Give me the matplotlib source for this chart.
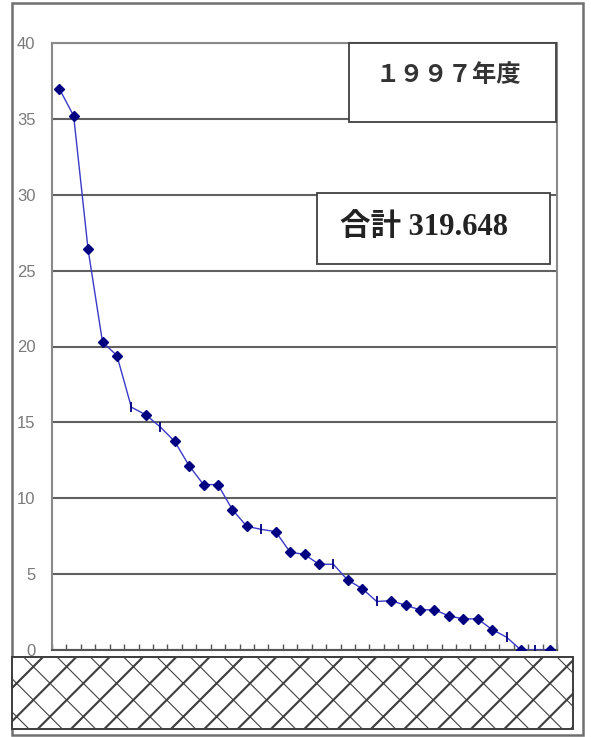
import matplotlib.pyplot as plt
from matplotlib.patches import Rectangle
import numpy as np

# 1997 ranking, largest first
ranks = list(range(1, 36))
values = [37.0, 35.2, 26.4, 20.3, 19.4, 16.0, 15.5, 14.7, 13.75, 12.15,
          10.9, 10.9, 9.25, 8.15, 7.95, 7.8, 6.45, 6.3, 5.65, 5.65,
          4.6, 4.05, 3.2, 3.25, 2.95, 2.65, 2.65, 2.25, 2.05, 2.05,
          1.35, 0.85, 0.0, 0.0, 0.0]
# entries drawn with a plain tick instead of the diamond
plain = [6, 8, 15, 20, 23, 32, 34]
year_label = "１９９７年度"
total_label = "合計 319.648"
yticks = [0, 5, 10, 15, 20, 25, 30, 35, 40]

W, H = 591, 737
fig = plt.figure(figsize=(W / 100, H / 100), dpi=100)
fig.patch.set_facecolor("white")

def fx(px):
    return px / W

def fy(py):
    return 1 - py / H

ax = fig.add_axes([fx(52), fy(650), fx(557) - fx(52), fy(43) - fy(650)])

x = np.arange(len(ranks))
y = np.array(values)
mask = np.array([r in plain for r in ranks])

ax.plot(x, y, color="#3a3ac8", lw=1.0, zorder=3)
ax.plot(x[~mask], y[~mask], ls="none", marker="D", ms=5.5,
        color="#000080", mec="#000080", zorder=4)
ax.plot(x[mask], y[mask], ls="none", marker="|", ms=7, mew=1.3,
        color="#000080", zorder=4)

ax.set_xlim(-0.5, len(ranks) - 0.5)
ax.set_ylim(0, 40)
ax.set_yticks(yticks)
ax.set_xticks([])
ax.set_xticks(np.arange(len(ranks) + 1) - 0.5, minor=True)
ax.tick_params(axis="x", which="minor", direction="in", length=4,
               width=1, color="#555555")
ax.tick_params(axis="y", length=0, pad=12, labelsize=12,
               labelcolor="#7a7a7a")
for lab in ax.get_yticklabels():
    lab.set_family("Liberation Sans")

ax.grid(axis="y", color="#606060", lw=1.5)
ax.set_axisbelow(True)
for side in ["left", "right", "top", "bottom"]:
    ax.spines[side].set_color("#8a8a8a")
    ax.spines[side].set_linewidth(1.5)
ax.spines["bottom"].set_color("#555555")

# outer frame
fig.patches.append(Rectangle((fx(12), fy(735)), fx(583) - fx(12), fy(3) - fy(735),
                             transform=fig.transFigure, fill=False,
                             ec="#707070", lw=1.8, zorder=5))

# hatched strip under the axis: cross hatch with heavier slashes
strip = (fx(12), fy(729))
strip_w, strip_h = fx(573) - fx(12), fy(657) - fy(729)
plt.rcParams["hatch.linewidth"] = 0.8
plt.rcParams["hatch.color"] = "#404040"
fig.patches.append(Rectangle(strip, strip_w, strip_h,
                             transform=fig.transFigure, fc="white",
                             ec="#404040", lw=1.3, hatch="x", zorder=6))
plt.rcParams["hatch.linewidth"] = 1.5
fig.patches.append(Rectangle(strip, strip_w, strip_h,
                             transform=fig.transFigure, fill=False,
                             ec="#404040", lw=1.3, hatch="/", zorder=6))

# label boxes
fig.patches.append(Rectangle((fx(349), fy(122)), fx(556) - fx(349), fy(43) - fy(122),
                             transform=fig.transFigure, fc="white",
                             ec="#404040", lw=1.3, zorder=5))
fig.patches.append(Rectangle((fx(317), fy(264)), fx(550) - fx(317), fy(193) - fy(264),
                             transform=fig.transFigure, fc="white",
                             ec="#404040", lw=1.3, zorder=5))

fig.text(fx(448), fy(76), year_label, ha="center", va="center",
         fontsize=17.5, fontweight="bold", color="#333333",
         family=["Liberation Serif", "Noto Sans CJK JP"], zorder=7)
fig.text(fx(424), fy(228), total_label, ha="center", va="center",
         fontsize=22, fontweight="bold", color="#222222",
         family=["Liberation Serif", "Noto Sans CJK JP"], zorder=7)

fig.savefig("out.png", dpi=100)
